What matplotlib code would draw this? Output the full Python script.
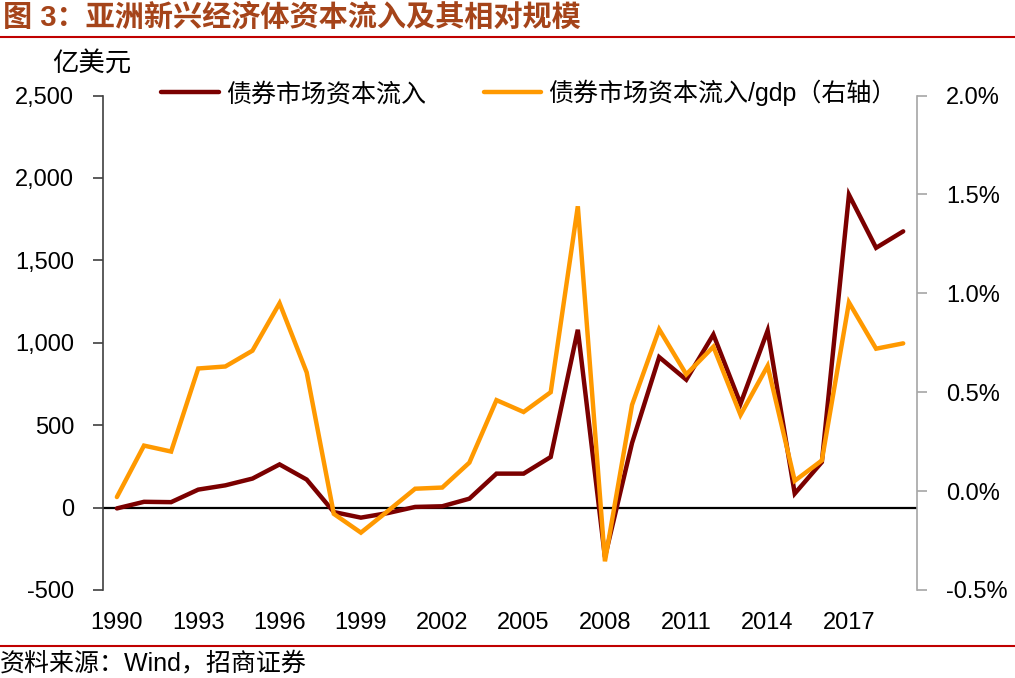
import matplotlib
matplotlib.use("Agg")
import matplotlib.pyplot as plt
from matplotlib.lines import Line2D

plt.rcParams['font.family'] = ['Liberation Sans', 'Noto Sans CJK SC', 'DejaVu Sans']

years = list(range(1990, 2020))
bond_flow = [-5, 35, 33, 109, 135, 176, 262, 170, -27, -61, -33, 4, 8, 54, 206,
             206, 307, 1079, -300, 392, 913, 776, 1050, 630, 1074, 85, 276, 1898, 1576, 1676]
bond_gdp = [-0.03, 0.23, 0.20, 0.62, 0.63, 0.71, 0.95, 0.60, -0.115, -0.21, -0.10, 0.012,
            0.018, 0.144, 0.46, 0.40, 0.50, 1.44, -0.355, 0.436, 0.818, 0.59, 0.73, 0.385,
            0.633, 0.052, 0.155, 0.954, 0.72, 0.747]
left_ticks = [-500, 0, 500, 1000, 1500, 2000, 2500]
left_labels = ['-500', '0', '500', '1,000', '1,500', '2,000', '2,500']
right_ticks = [-0.5, 0.0, 0.5, 1.0, 1.5, 2.0]
right_labels = ['-0.5%', '0.0%', '0.5%', '1.0%', '1.5%', '2.0%']
xtick_years = list(range(1990, 2020, 3))
series_names = ['债券市场资本流入', '债券市场资本流入/gdp（右轴）']
title = '图 3：亚洲新兴经济体资本流入及其相对规模'
unit = '亿美元'
source = '资料来源：Wind，招商证券'

DARK = '#7B0000'
ORANGE = '#FF9900'
RED = '#C00000'

fig = plt.figure(figsize=(10.15, 6.78), dpi=100)
ax = fig.add_axes([0.1018, 0.1298, 0.8014, 0.7293])
ax2 = ax.twinx()

ax.axhline(0, color='black', lw=1.6, zorder=1)
l1, = ax.plot(years, bond_flow, color=DARK, lw=3.2, zorder=3, solid_capstyle='round', solid_joinstyle='miter')
l2, = ax2.plot(years, bond_gdp, color=ORANGE, lw=3.2, zorder=3, solid_capstyle='round', solid_joinstyle='miter')

ax.set_xlim(1989.5, 2019.5)
ax.set_ylim(-500, 2500)
ax2.set_ylim(-0.5, 2.0)

ax.set_yticks(left_ticks)
ax.set_yticklabels(left_labels, fontsize=17)
ax2.set_yticks(right_ticks)
ax2.set_yticklabels(right_labels, fontsize=17)
ax.set_xticks(xtick_years)
ax.set_xticklabels([str(y) for y in xtick_years], fontsize=17)

for s in ['top', 'right', 'bottom']:
    ax.spines[s].set_visible(False)
for s in ['top', 'left', 'bottom']:
    ax2.spines[s].set_visible(False)
ax.spines['left'].set_color('#404040')
ax.spines['left'].set_linewidth(1.2)
ax2.spines['right'].set_color('#A6A6A6')
ax2.spines['right'].set_linewidth(1.2)

ax.tick_params(axis='y', direction='out', length=7, width=1.2, color='#404040', pad=14)
ax.tick_params(axis='x', length=0, pad=16)
ax2.tick_params(axis='y', direction='out', length=7, width=1.2, color='#A6A6A6', pad=14)
ax.patch.set_visible(False)

fig.legend([l1, l2], series_names, loc='center left',
           bbox_to_anchor=(161 / 1015, 1 - 93 / 678), ncol=2, frameon=False,
           fontsize=18, handlelength=2.3, handletextpad=0.3, columnspacing=2.3,
           borderpad=0, borderaxespad=0)

fig.text(92 / 1015, 1 - 64 / 678, unit, fontsize=19, ha='center', va='center')

fig.text(3 / 1015, 1 - 18 / 678, title, fontsize=21, fontweight='bold',
         color='#A5441A', ha='left', va='center')
fig.add_artist(Line2D([0, 1], [1 - 37 / 678] * 2, color=RED, lw=1.5))
fig.add_artist(Line2D([0, 1], [1 - 646 / 678] * 2, color=RED, lw=1.5))
fig.text(0, 1 - 663 / 678, source, fontsize=18, ha='left', va='center')

fig.savefig('out.png', dpi=100)
